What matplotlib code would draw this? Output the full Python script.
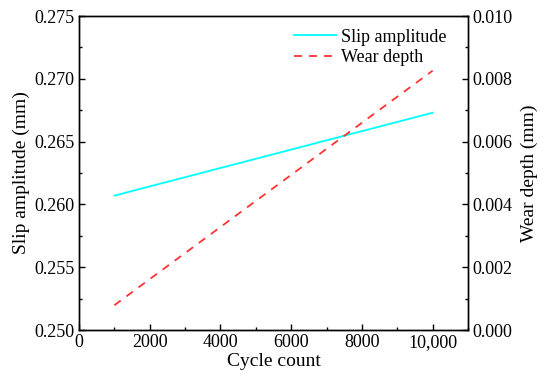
import numpy as np
import matplotlib
matplotlib.use("Agg")
import matplotlib.pyplot as plt
from matplotlib.ticker import MultipleLocator, FuncFormatter

# data
cycles = [1000, 10000]
slip_amp = [0.2607, 0.2673]
wear_depth = [0.00079, 0.00826]

plt.rcParams['font.family'] = ['Liberation Serif', 'DejaVu Serif']
plt.rcParams['font.size'] = 13

fig = plt.figure(figsize=(5.5, 3.86), dpi=100)
ax = fig.add_axes([0.1436, 0.145, 0.7073, 0.8135])
ax2 = ax.twinx()

l1, = ax.plot(cycles, slip_amp, color='#00FFFF', lw=1.3, label='Slip amplitude')
l2, = ax2.plot(cycles, wear_depth, color='#FF3333', lw=1.3, ls=(0, (4.4, 3.9)), label='Wear depth')

ax.set_xlim(0, 11000)
ax.set_ylim(0.250, 0.275)
ax2.set_ylim(0, 0.010)

ax.xaxis.set_major_locator(MultipleLocator(2000))
ax.xaxis.set_minor_locator(MultipleLocator(1000))
ax.yaxis.set_major_locator(MultipleLocator(0.005))
ax.yaxis.set_minor_locator(MultipleLocator(0.0025))
ax2.yaxis.set_major_locator(MultipleLocator(0.002))
ax2.yaxis.set_minor_locator(MultipleLocator(0.001))

ax.xaxis.set_major_formatter(FuncFormatter(lambda v, p: "10,000" if v == 10000 else "%d" % v))
ax.yaxis.set_major_formatter(FuncFormatter(lambda v, p: "%.3f" % v))
ax2.yaxis.set_major_formatter(FuncFormatter(lambda v, p: "%.3f" % v))

for a in (ax, ax2):
    a.tick_params(which='major', direction='in', length=4, width=1, pad=3)
    a.tick_params(which='minor', direction='in', length=2.5, width=1)
    for s in a.spines.values():
        s.set_linewidth(1)

ax.set_xlabel("Cycle count", fontsize=14, labelpad=1)
ax.set_ylabel("Slip amplitude (mm)", fontsize=14, labelpad=3)
ax2.set_ylabel("Wear depth (mm)", fontsize=14, labelpad=6)

ax.legend(handles=[l1, l2], loc='upper right', frameon=False, handlelength=2.3,
          handletextpad=0.3, labelspacing=0.2, borderaxespad=0.3,
          bbox_to_anchor=(0.978, 1.0), fontsize=13)

fig.savefig("out.png", dpi=100)
